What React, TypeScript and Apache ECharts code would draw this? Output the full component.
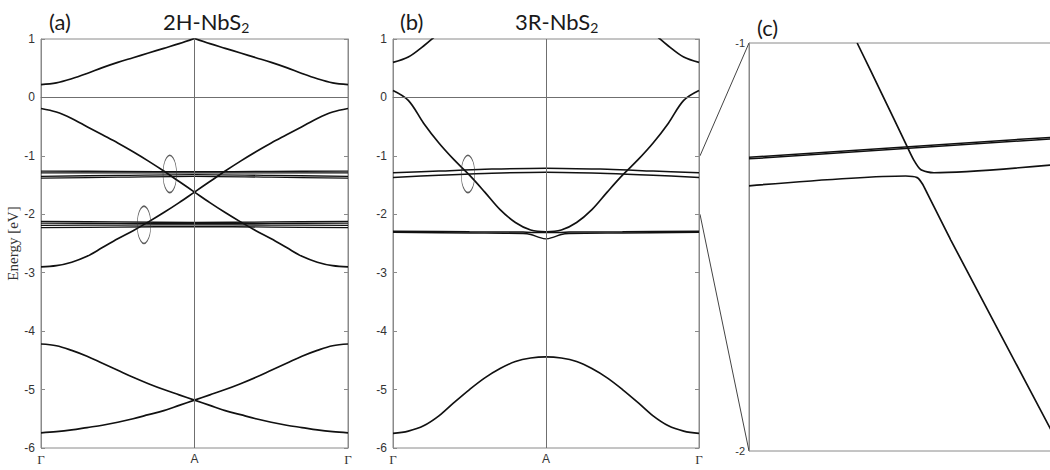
import React, { useEffect, useRef } from "react";
import * as echarts from "echarts";

// k-path positions: Γ = 0, A = 1, Γ = 2
const K21 = [0, 0.1, 0.2, 0.3, 0.4, 0.5, 0.6, 0.7, 0.8, 0.9, 1.0, 1.1, 1.2, 1.3, 1.4, 1.5, 1.6, 1.7, 1.8, 1.9, 2.0];
const K_LEFT = [0, 0.1, 0.2, 0.3, 0.4, 0.5, 0.6, 0.7, 0.8, 0.9, 1.0];
const K_RIGHT = [1.0, 1.1, 1.2, 1.3, 1.4, 1.5, 1.6, 1.7, 1.8, 1.9, 2.0];
const K5 = [0, 0.5, 1, 1.5, 2];
const K7 = [0, 0.3, 0.6, 1, 1.4, 1.7, 2];
const K11 = [0, 0.5, 0.85, 0.9, 0.95, 1.0, 1.05, 1.1, 1.15, 1.5, 2];
const K_LABELS = ["Γ", "A", "Γ"];

// (a) 2H-NbS2
const A_COND_L = [0.22, 0.25, 0.32, 0.41, 0.51, 0.6, 0.68, 0.76, 0.84, 0.92, 1.01];
const A_COND_R = [1.01, 0.92, 0.84, 0.76, 0.68, 0.6, 0.51, 0.41, 0.32, 0.25, 0.22];
const A_VB1 = [-0.19, -0.25, -0.36, -0.5, -0.64, -0.78, -0.93, -1.09, -1.26, -1.44, -1.62, -1.8, -1.97, -2.13, -2.28, -2.42, -2.57, -2.72, -2.82, -2.88, -2.9];
const A_VB2 = [-2.9, -2.88, -2.82, -2.72, -2.57, -2.42, -2.28, -2.13, -1.97, -1.8, -1.62, -1.44, -1.26, -1.09, -0.93, -0.78, -0.64, -0.5, -0.36, -0.25, -0.19];
const A_LOW1 = [-4.22, -4.25, -4.33, -4.43, -4.55, -4.67, -4.79, -4.9, -5.0, -5.09, -5.18, -5.27, -5.36, -5.43, -5.5, -5.56, -5.61, -5.65, -5.69, -5.72, -5.74];
const A_LOW2 = [-5.74, -5.72, -5.69, -5.65, -5.61, -5.56, -5.5, -5.43, -5.36, -5.27, -5.18, -5.09, -5.0, -4.9, -4.79, -4.67, -4.55, -4.43, -4.33, -4.25, -4.22];
const A_FLAT1 = [-1.26, -1.265, -1.27, -1.265, -1.26];
const A_FLAT2 = [-1.29, -1.29, -1.29, -1.29, -1.29];
const A_FLAT3 = [-1.35, -1.335, -1.32, -1.335, -1.35];
const A_FLAT4 = [-1.38, -1.365, -1.35, -1.365, -1.38];
const A_FLAT5 = [-2.12, -2.13, -2.14, -2.13, -2.12];
const A_FLAT6 = [-2.15, -2.155, -2.16, -2.155, -2.15];
const A_FLAT7 = [-2.19, -2.185, -2.18, -2.185, -2.19];
const A_FLAT8 = [-2.23, -2.22, -2.21, -2.22, -2.23];
const A_MARKS = [[0.839, -1.31], [0.671, -2.18]];

// (b) 3R-NbS2
const B_COND = [0.6, 0.69, 0.88, 1.1, 1.3, 1.45, 1.55, 1.62, 1.66, 1.68, 1.7, 1.68, 1.66, 1.62, 1.55, 1.45, 1.3, 1.1, 0.88, 0.69, 0.6];
const B_VB = [0.12, -0.05, -0.44, -0.78, -1.07, -1.33, -1.62, -1.92, -2.14, -2.27, -2.3, -2.27, -2.14, -1.92, -1.62, -1.33, -1.07, -0.78, -0.44, -0.05, 0.12];
const B_LOW = [-5.75, -5.71, -5.62, -5.45, -5.22, -5.0, -4.8, -4.64, -4.52, -4.46, -4.44, -4.46, -4.52, -4.64, -4.8, -5.0, -5.22, -5.45, -5.62, -5.71, -5.75];
const B_FLAT_U = [-1.29, -1.26, -1.23, -1.21, -1.23, -1.26, -1.29];
const B_FLAT_L = [-1.37, -1.33, -1.3, -1.28, -1.3, -1.33, -1.37];
const B_DEEP1 = [-2.29, -2.3, -2.305, -2.31, -2.31, -2.31, -2.31, -2.31, -2.305, -2.3, -2.29];
const B_DEEP2 = [-2.31, -2.32, -2.33, -2.345, -2.39, -2.42, -2.39, -2.345, -2.33, -2.32, -2.31];
const B_MARKS = [[0.49, -1.31]];

// (c) zoom of (b) between -1 and -2 eV
const C_K_THICK = [0, 1];
const C_THICK1 = [-1.28, -1.231];
const C_THICK2 = [-1.284, -1.235];
const C_K_UP = [0.357, 0.44, 0.522, 0.544, 0.566, 0.588, 0.61, 1.0];
const C_UP = [-1.0, -1.127, -1.254, -1.287, -1.31, -1.316, -1.318, -1.299];
const C_K_LOW = [0, 0.517, 0.555, 0.572, 0.588, 0.666, 0.83, 1.0];
const C_LOW = [-1.35, -1.326, -1.33, -1.345, -1.368, -1.483, -1.714, -1.953];

const SANS = "Liberation Sans";
const SERIF = "Liberation Serif";
const BOX = "#8a8a8a";

function line(xi: number, yi: number, ks: number[], vs: number[], width = 1.7, extra: any = {}) {
  return {
    type: "line",
    xAxisIndex: xi,
    yAxisIndex: yi,
    data: ks.map((k, i) => [k, vs[i]]),
    symbol: "none",
    showSymbol: false,
    smooth: 0.35,
    silent: true,
    clip: true,
    lineStyle: { color: "#111", width },
    z: 3,
    ...extra,
  };
}

function marks(xi: number, yi: number, pts: number[][]) {
  return {
    type: "scatter",
    xAxisIndex: xi,
    yAxisIndex: yi,
    data: pts,
    symbol: "circle",
    symbolSize: [13.5, 37],
    silent: true,
    itemStyle: { color: "rgba(0,0,0,0)", borderColor: "#333", borderWidth: 1 },
    z: 5,
  };
}

const refLines = {
  silent: true,
  symbol: "none",
  label: { show: false },
  lineStyle: { color: "#6f6f6f", width: 1, type: "solid" },
  data: [{ xAxis: 1 }, { yAxis: 0 }],
};

function bandYAxes(gridIndex: number, withName: boolean) {
  const common = {
    type: "value",
    gridIndex,
    min: -6,
    max: 1,
    interval: 1,
    splitLine: { show: false },
    axisLine: { show: true, lineStyle: { color: BOX } },
    axisTick: { show: true, inside: true, length: 4, lineStyle: { color: BOX } },
  };
  return [
    {
      ...common,
      position: "left",
      axisLabel: { fontFamily: SANS, fontSize: 12, color: "#333", margin: 6 },
      name: withName ? "Energy [eV]" : "",
      nameLocation: "middle",
      nameGap: 21,
      nameTextStyle: { fontFamily: SERIF, fontSize: 15, color: "#333" },
    },
    { ...common, position: "right", axisLabel: { show: false } },
  ];
}

function bandXAxis(gridIndex: number) {
  return {
    type: "value",
    gridIndex,
    min: 0,
    max: 2,
    interval: 1,
    splitLine: { show: false },
    axisLine: { show: true, lineStyle: { color: BOX } },
    axisTick: { show: false },
    axisLabel: {
      margin: 5,
      showMinLabel: true,
      showMaxLabel: true,
      formatter: (v: number) => (v === 1 ? "{s|" + K_LABELS[1] + "}" : "{g|" + K_LABELS[0] + "}"),
      rich: {
        g: { fontFamily: SERIF, fontSize: 13, color: "#333" },
        s: { fontFamily: SANS, fontSize: 12, color: "#333" },
      },
    },
  };
}

function titleText(left: number, top: number, main: string, sub?: string) {
  return {
    left,
    top,
    text: sub ? "{m|" + main + "}{s|" + sub + "}" : "{m|" + main + "}",
    textStyle: {
      fontWeight: "normal",
      rich: {
        m: { fontFamily: "Lato", fontSize: 22, fontWeight: "normal", color: "#1a1a1a", lineHeight: 26 },
        s: { fontFamily: "Lato", fontSize: 14, fontWeight: "normal", color: "#1a1a1a", lineHeight: 26, verticalAlign: "bottom", padding: [8, 0, 0, 0] },
      },
    },
  };
}

export default function App() {
  const ref = useRef<HTMLDivElement>(null);
  useEffect(() => {
    if (!ref.current) return;
    const chart = echarts.init(ref.current, undefined, { renderer: "svg" });
    const option: any = {
      animation: false,
      backgroundColor: "#ffffff",
      title: [
        titleText(44, 3, "(a)"),
        titleText(158, 3, "2H-NbS", "2"),
        titleText(395, 3, "(b)"),
        titleText(510, 3, "3R-NbS", "2"),
        titleText(752, 9, "(c)"),
      ],
      grid: [
        { left: 41, top: 39, width: 307, height: 409, show: true, borderColor: BOX, borderWidth: 1, outerBoundsMode: "none" },
        { left: 393, top: 39, width: 306, height: 409, show: true, borderColor: BOX, borderWidth: 1, outerBoundsMode: "none" },
        { left: 749, top: 43, width: 303, height: 408, show: true, borderColor: BOX, borderWidth: 1, outerBoundsMode: "none" },
      ],
      xAxis: [
        bandXAxis(0),
        bandXAxis(1),
        { type: "value", gridIndex: 2, min: 0, max: 1, show: false },
      ],
      yAxis: [
        ...bandYAxes(0, true),
        ...bandYAxes(1, false),
        {
          type: "value",
          gridIndex: 2,
          min: -2,
          max: -1,
          interval: 1,
          position: "left",
          splitLine: { show: false },
          axisLine: { show: true, lineStyle: { color: BOX } },
          axisTick: { show: false },
          axisLabel: { fontFamily: SANS, fontSize: 11, color: "#333", margin: 4, showMinLabel: true, showMaxLabel: true },
        },
      ],
      series: [
        // (a)
        line(0, 0, K_LEFT, A_COND_L, 1.7, { markLine: refLines }),
        line(0, 0, K_RIGHT, A_COND_R),
        line(0, 0, K21, A_VB1),
        line(0, 0, K21, A_VB2),
        line(0, 0, K21, A_LOW1),
        line(0, 0, K21, A_LOW2),
        line(0, 0, K5, A_FLAT1, 1.3),
        line(0, 0, K5, A_FLAT2, 1.3),
        line(0, 0, K5, A_FLAT3, 1.3),
        line(0, 0, K5, A_FLAT4, 1.3),
        line(0, 0, K5, A_FLAT5, 1.3),
        line(0, 0, K5, A_FLAT6, 1.3),
        line(0, 0, K5, A_FLAT7, 1.3),
        line(0, 0, K5, A_FLAT8, 1.3),
        marks(0, 0, A_MARKS),
        // (b)
        line(1, 2, K21, B_COND, 1.7, { markLine: refLines }),
        line(1, 2, K21, B_VB),
        line(1, 2, K21, B_LOW),
        line(1, 2, K7, B_FLAT_U, 1.5),
        line(1, 2, K7, B_FLAT_L, 1.5),
        line(1, 2, K11, B_DEEP1, 1.5),
        line(1, 2, K11, B_DEEP2, 1.4),
        marks(1, 2, B_MARKS),
        // (c)
        line(2, 4, C_K_THICK, C_THICK1, 1.5),
        line(2, 4, C_K_THICK, C_THICK2, 1.5),
        line(2, 4, C_K_UP, C_UP, 1.7, { smooth: 0.25 }),
        line(2, 4, C_K_LOW, C_LOW, 1.7, { smooth: 0.25 }),
      ],
    };
    chart.setOption(option);

    const p1 = chart.convertToPixel({ xAxisIndex: 1, yAxisIndex: 2 } as any, [2, -1]) as number[];
    const p2 = chart.convertToPixel({ xAxisIndex: 2, yAxisIndex: 4 } as any, [0, -1]) as number[];
    const p3 = chart.convertToPixel({ xAxisIndex: 1, yAxisIndex: 2 } as any, [2, -2]) as number[];
    const p4 = chart.convertToPixel({ xAxisIndex: 2, yAxisIndex: 4 } as any, [0, -2]) as number[];
    if (p1 && p2 && p3 && p4) {
      chart.setOption({
        graphic: [
          { type: "line", silent: true, shape: { x1: p1[0] + 1, y1: p1[1], x2: p2[0], y2: p2[1] }, style: { stroke: "#444", lineWidth: 1 } },
          { type: "line", silent: true, shape: { x1: p3[0] + 1, y1: p3[1], x2: p4[0], y2: p4[1] }, style: { stroke: "#444", lineWidth: 1 } },
        ],
      });
    }
    return () => chart.dispose();
  }, []);
  return <div ref={ref} style={{ position: "fixed", left: 0, top: 0, width: 1050, height: 470, background: "#fff" }} />;
}
